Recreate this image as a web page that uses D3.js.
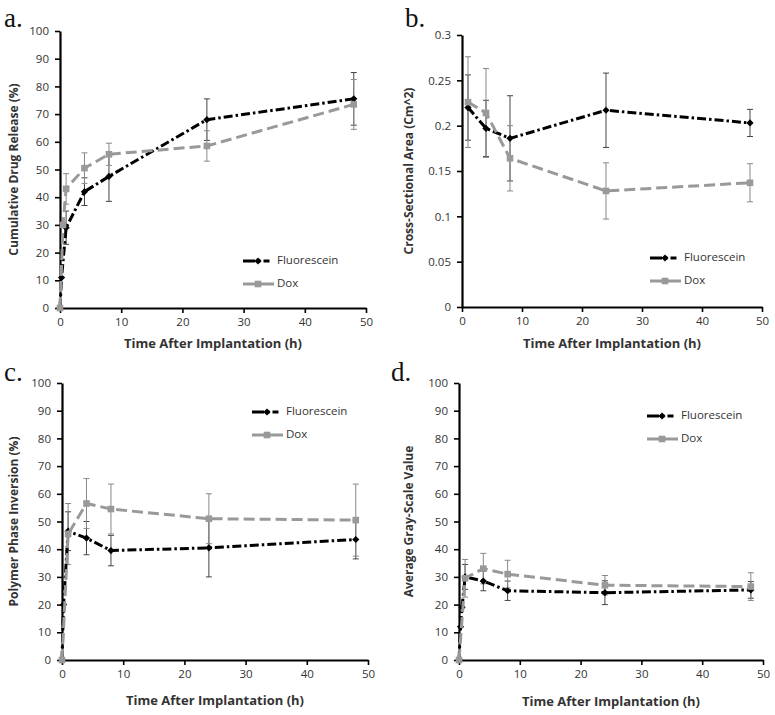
<!DOCTYPE html>
<html><head><meta charset="utf-8">
<script src="https://cdn.jsdelivr.net/npm/d3@7/dist/d3.min.js"></script>
<style>body{margin:0;background:#fff}svg{display:block}</style>
</head><body>
<svg id="c" width="775" height="715"></svg>
<script>
// ---- Data ----
const xTicks = [0, 10, 20, 30, 40, 50];
const seriesNames = ["Fluorescein", "Dox"];

// a. Cumulative drug release
const aFluoT = [0, 0.25, 1, 4, 8, 24, 48];
const aFluoV = [0, 11, 29, 42, 47.5, 68, 75.5];
const aFluoE = [0, 0, 6, 5, 9, 7.5, 9.5];
const aDoxT = [0, 0.5, 1, 4, 8, 24, 48];
const aDoxV = [0, 30, 43, 50.5, 55.5, 58.5, 73.5];
const aDoxE = [0, 0, 5.5, 5.5, 4, 5.5, 9];
const aYTicks = [0, 10, 20, 30, 40, 50, 60, 70, 80, 90, 100];

// b. Cross-sectional area
const bFluoT = [1, 4, 8, 24, 48];
const bFluoV = [0.220, 0.197, 0.186, 0.217, 0.203];
const bFluoE = [0.036, 0.031, 0.047, 0.041, 0.015];
const bDoxT = [1, 4, 8, 24, 48];
const bDoxV = [0.226, 0.214, 0.164, 0.128, 0.137];
const bDoxE = [0.050, 0.049, 0.036, 0.031, 0.021];
const bYTicks = [0, 0.05, 0.1, 0.15, 0.2, 0.25, 0.3];

// c. Polymer phase inversion
const cFluoT = [0, 0.25, 1, 4, 8, 24, 48];
const cFluoV = [0, 20, 46.5, 44, 39.5, 40.5, 43.5];
const cFluoE = [0, 0, 7, 6, 5.5, 10.5, 7];
const cDoxT = [0, 1, 4, 8, 24, 48];
const cDoxV = [0, 45.5, 56.5, 54.5, 51, 50.5];
const cDoxE = [0, 11, 9, 9, 9, 13];
const cYTicks = [0, 10, 20, 30, 40, 50, 60, 70, 80, 90, 100];

// d. Average gray-scale value
const dFluoT = [0, 0.25, 0.5, 1, 4, 8, 24, 48];
const dFluoV = [0, 12, 19, 30, 28.5, 25, 24.3, 25.3];
const dFluoE = [0, 0, 0, 4.5, 3.5, 3.5, 4.3, 3];
const dDoxT = [0, 1, 4, 8, 24, 48];
const dDoxV = [0, 29.5, 33, 31, 27, 26.5];
const dDoxE = [0, 6.8, 5.5, 5, 3.5, 5];
const dYTicks = [0, 10, 20, 30, 40, 50, 60, 70, 80, 90, 100];

const zip = (t, v, e) => t.map((x, i) => ({t: x, v: v[i], e: e[i]}));

const panels = [
  {label: "a.", lx: 4, ly: 27, x0: 60, x1: 366, y0: 308, y1: 31, yMax: 100, yTicks: aYTicks, fmt: d => d,
   ytitle: "Cumulative Drug Release (%)", ytx: 15, xtY: 348,
   fluo: zip(aFluoT, aFluoV, aFluoE), dox: zip(aDoxT, aDoxV, aDoxE), legX: 243, legY: 261},
  {label: "b.", lx: 405, ly: 27, x0: 462, x1: 762, y0: 307, y1: 35, yMax: 0.3, yTicks: bYTicks, fmt: d => String(+d.toFixed(2)),
   ytitle: "Cross-Sectional Area (Cm^2)", ytx: 410, xtY: 348,
   fluo: zip(bFluoT, bFluoV, bFluoE), dox: zip(bDoxT, bDoxV, bDoxE), legX: 650, legY: 258},
  {label: "c.", lx: 4, ly: 381, x0: 62, x1: 368, y0: 660, y1: 383, yMax: 100, yTicks: cYTicks, fmt: d => d,
   ytitle: "Polymer Phase Inversion  (%)", ytx: 15, xtY: 705,
   fluo: zip(cFluoT, cFluoV, cFluoE), dox: zip(cDoxT, cDoxV, cDoxE), legX: 252, legY: 412},
  {label: "d.", lx: 391, ly: 381, x0: 459, x1: 763, y0: 660, y1: 383, yMax: 100, yTicks: dYTicks, fmt: d => d,
   ytitle: "Average Gray-Scale Value", ytx: 410, xtY: 706,
   fluo: zip(dFluoT, dFluoV, dFluoE), dox: zip(dDoxT, dDoxV, dDoxE), legX: 647, legY: 416}
];

const svg = d3.select("#c");
const FONT = "'Open Sans', 'Liberation Sans', sans-serif";

function diamond(g, x, y, s, fill) {
  g.append("path").attr("d", `M${x},${y - s}L${x + s},${y}L${x},${y + s}L${x - s},${y}Z`).attr("fill", fill);
}
function square(g, x, y, s, fill) {
  g.append("rect").attr("x", x - s).attr("y", y - s).attr("width", 2 * s).attr("height", 2 * s).attr("fill", fill);
}

panels.forEach(p => {
  const g = svg.append("g");
  const x = d3.scaleLinear().domain([0, 50]).range([p.x0, p.x1]);
  const y = d3.scaleLinear().domain([0, p.yMax]).range([p.y0, p.y1]);

  // panel label
  g.append("text").attr("x", p.lx).attr("y", p.ly).text(p.label)
    .attr("font-family", "'Liberation Serif', serif").attr("font-size", 27).attr("fill", "#111");

  // axes
  const ya = d3.axisLeft(y).tickValues(p.yTicks).tickFormat(p.fmt).tickSize(5).tickSizeOuter(0).tickPadding(6);
  const yg = g.append("g").attr("transform", `translate(${p.x0},0)`).call(ya);
  const xa = d3.axisBottom(x).tickValues(xTicks).tickSize(5).tickSizeOuter(0).tickPadding(5);
  const xg = g.append("g").attr("transform", `translate(0,${p.y0})`).call(xa);
  [yg, xg].forEach(a => {
    a.select(".domain").attr("stroke", "#000").attr("stroke-width", 2.2);
    a.selectAll(".tick line").attr("stroke", "#000").attr("stroke-width", 1.6);
    a.selectAll(".tick text").attr("font-family", FONT).attr("font-size", 11.5).attr("fill", "#333");
  });

  // titles
  g.append("text").attr("transform", `translate(${p.ytx},${(p.y0 + p.y1) / 2}) rotate(-90)`)
    .attr("text-anchor", "middle").attr("dominant-baseline", "middle")
    .attr("font-family", FONT).attr("font-weight", "bold").attr("font-size", 12).attr("fill", "#333").text(p.ytitle);
  g.append("text").attr("x", (p.x0 + p.x1) / 2).attr("y", p.xtY).attr("text-anchor", "middle")
    .attr("font-family", FONT).attr("font-weight", "bold").attr("font-size", 13).attr("fill", "#333")
    .text("Time After Implantation (h)");

  const line = d3.line().x(d => x(d.t)).y(d => y(d.v));
  const styles = [
    {data: p.fluo, color: "#000", errColor: "#444", dash: "9,3,2.5,3", mark: diamond},
    {data: p.dox, color: "#999", errColor: "#888", dash: "11,5", mark: square}
  ];

  // error bars
  styles.forEach(s => {
    s.data.filter(d => d.e > 0).forEach(d => {
      const cx = x(d.t), a = y(d.v - d.e), b = y(d.v + d.e);
      g.append("line").attr("x1", cx).attr("x2", cx).attr("y1", a).attr("y2", b).attr("stroke", s.errColor).attr("stroke-width", 1);
      [a, b].forEach(yy => g.append("line").attr("x1", cx - 3).attr("x2", cx + 3).attr("y1", yy).attr("y2", yy)
        .attr("stroke", s.errColor).attr("stroke-width", 1));
    });
  });

  // lines + markers (Dox first so Fluorescein on top? Reference shows dox over fluorescein in places)
  [styles[0], styles[1]].forEach(s => {
    g.append("path").datum(s.data).attr("d", line).attr("fill", "none")
      .attr("stroke", s.color).attr("stroke-width", 3).attr("stroke-dasharray", s.dash);
    s.data.forEach(d => s.mark(g, x(d.t), y(d.v), s.mark === diamond ? 3.6 : 3.3, s.color));
  });

  // legend
  styles.forEach((s, i) => {
    const ly = p.legY + i * 23;
    g.append("line").attr("x1", p.legX).attr("x2", p.legX + 31).attr("y1", ly).attr("y2", ly)
      .attr("stroke", s.color).attr("stroke-width", 3).attr("stroke-dasharray", i === 0 ? "12,3,2.5,3,6" : null);
    s.mark(g, p.legX + 15, ly, s.mark === diamond ? 3.6 : 3.3, s.color);
    g.append("text").attr("x", p.legX + 34).attr("y", ly).attr("dominant-baseline", "middle")
      .attr("font-family", FONT).attr("font-size", 11.5).attr("fill", "#333").text(seriesNames[i]);
  });
});
</script>
</body></html>
